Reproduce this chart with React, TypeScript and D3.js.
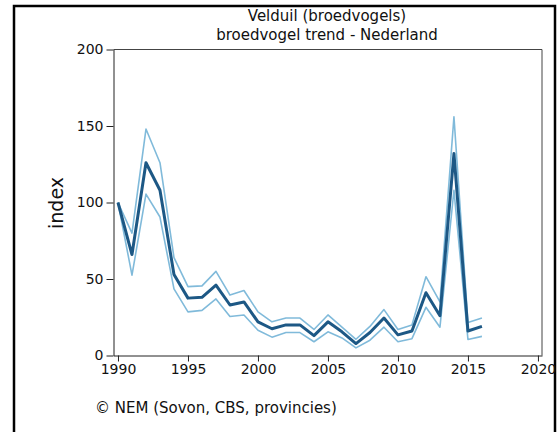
import React, { useEffect, useRef } from 'react';
import * as d3 from 'd3';

const years = [
  1990, 1991, 1992, 1993, 1994, 1995, 1996, 1997, 1998, 1999, 2000, 2001, 2002, 2003,
  2004, 2005, 2006, 2007, 2008, 2009, 2010, 2011, 2012, 2013, 2014, 2015, 2016,
];
const trend = [
  100, 66, 126, 108, 53, 37.5, 38, 46, 33, 35, 22, 17.5, 20, 20,
  13, 22, 15.5, 7.8, 15, 24.5, 13.5, 16, 41, 26, 132, 16, 19,
];
const upper = [
  100, 80, 148, 126, 64, 45, 45.5, 55, 39.5, 42.5, 28.5, 22, 24.5, 24.5,
  17, 26.5, 18.5, 10.6, 19, 30, 17, 20, 51.5, 35, 156, 21.5, 24.5,
];
const lower = [
  100, 52.5, 105.5, 90.5, 43.5, 28.5, 29.5, 37, 25.5, 26.5, 16.5, 12, 15, 15,
  9, 15.5, 11.5, 5, 10, 18.5, 9, 11, 31.5, 18.5, 108, 10.5, 12.5,
];
const xTicks = [1990, 1995, 2000, 2005, 2010, 2015, 2020];
const yTicks = [0, 50, 100, 150, 200];

const FONT = '"DejaVu Sans", Verdana, sans-serif';

export default function App() {
  const svgRef = useRef<SVGSVGElement>(null);

  useEffect(() => {
    if (!svgRef.current) return;
    const svg = d3.select(svgRef.current);
    svg.selectAll('*').remove();

    const left = 113.5, right = 542, top = 49.5, bottom = 355.5;

    const x = d3.scaleLinear().domain([1989.68, 2020.29]).range([left, right]);
    const y = d3.scaleLinear().domain([0, 200]).range([bottom, top]);

    // outer frame
    svg.append('rect')
      .attr('x', 14).attr('y', 6)
      .attr('width', 541).attr('height', 440)
      .attr('fill', 'none').attr('stroke', '#000').attr('stroke-width', 2.5);

    // plot box (top + right)
    svg.append('path')
      .attr('d', `M${left},${top}H${right}V${bottom}`)
      .attr('fill', 'none').attr('stroke', '#444').attr('stroke-width', 1);

    const line = (vals: number[]) =>
      d3.line<number>()
        .x((_, i) => x(years[i]))
        .y(d => y(d))(vals);

    [upper, lower].forEach(vals => {
      svg.append('path')
        .attr('d', line(vals) as string)
        .attr('fill', 'none')
        .attr('stroke', '#6aaed3')
        .attr('stroke-opacity', 0.85)
        .attr('stroke-width', 1.6)
        .attr('stroke-linejoin', 'round');
    });

    svg.append('path')
      .attr('d', line(trend) as string)
      .attr('fill', 'none')
      .attr('stroke', '#1d5885')
      .attr('stroke-width', 3)
      .attr('stroke-linejoin', 'round');

    // axes
    const xAxis = svg.append('g')
      .attr('transform', `translate(0,${bottom})`)
      .call(d3.axisBottom(x).tickValues(xTicks).tickSize(6).tickSizeOuter(0).tickPadding(3).tickFormat(d => String(d)));
    const yAxis = svg.append('g')
      .attr('transform', `translate(${left},0)`)
      .call(d3.axisLeft(y).tickValues(yTicks).tickSize(7).tickSizeOuter(0).tickPadding(3));

    [xAxis, yAxis].forEach(a => {
      a.select('.domain').attr('stroke', '#222');
      a.selectAll('.tick line').attr('stroke', '#222');
      a.selectAll('text')
        .attr('font-family', FONT)
        .attr('font-size', 14)
        .attr('fill', '#111');
    });

    // titles
    svg.append('text')
      .attr('x', 327).attr('y', 21)
      .attr('text-anchor', 'middle')
      .attr('font-family', FONT).attr('font-size', 15).attr('fill', '#111')
      .text('Velduil (broedvogels)');
    svg.append('text')
      .attr('x', 327).attr('y', 40)
      .attr('text-anchor', 'middle')
      .attr('font-family', FONT).attr('font-size', 15).attr('fill', '#111')
      .text('broedvogel trend - Nederland');

    // y label
    svg.append('text')
      .attr('transform', 'translate(63,203) rotate(-90)')
      .attr('text-anchor', 'middle')
      .attr('font-family', FONT).attr('font-size', 19).attr('fill', '#111')
      .text('index');

    // source
    svg.append('text')
      .attr('x', 95).attr('y', 413)
      .attr('font-family', FONT).attr('font-size', 15).attr('fill', '#111')
      .text('© NEM (Sovon, CBS, provincies)');
  }, []);

  return (
    <svg
      ref={svgRef}
      width={559}
      height={432}
      style={{ position: 'absolute', left: 0, top: 0, background: '#fff' }}
    />
  );
}
